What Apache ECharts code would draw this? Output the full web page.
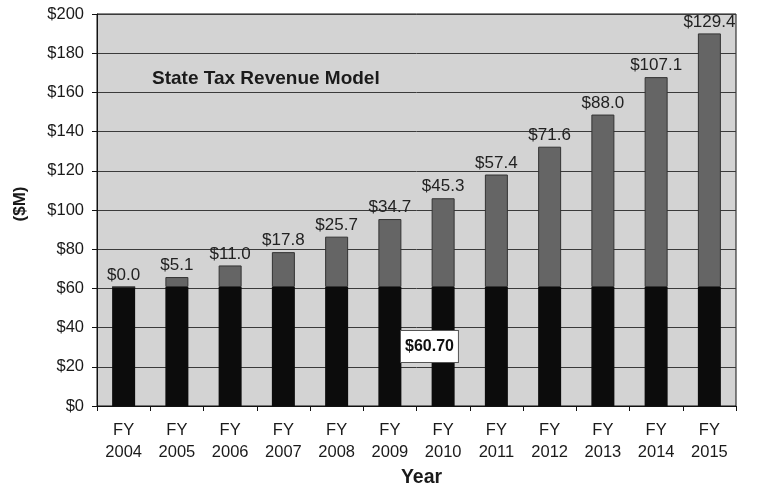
<!DOCTYPE html>
<html>
<head>
<meta charset="utf-8">
<script src="https://cdn.jsdelivr.net/npm/echarts@6/dist/echarts.min.js"></script>
<style>html,body{margin:0;padding:0;background:#fff;}#c{width:777px;height:487px;}</style>
</head>
<body>
<div id="c"></div>
<script>
const categories = ['FY\n2004','FY\n2005','FY\n2006','FY\n2007','FY\n2008','FY\n2009','FY\n2010','FY\n2011','FY\n2012','FY\n2013','FY\n2014','FY\n2015'];
const baseValues = [60.7,60.7,60.7,60.7,60.7,60.7,60.7,60.7,60.7,60.7,60.7,60.7];
const addedValues = [0.0,5.1,11.0,17.8,25.7,34.7,45.3,57.4,71.6,88.0,107.1,129.4];
const yTicks = {min:0, max:200, interval:20};

const chart = echarts.init(document.getElementById('c'));
const font = 'Liberation Sans, Arial, sans-serif';
chart.setOption({
  animation:false,
  grid:{left:97,right:41,top:14,bottom:81,outerBoundsMode:'none',containLabel:false,show:true,backgroundColor:'#d3d3d3',borderColor:'#111',borderWidth:1},
  title:{text:'State Tax Revenue Model',left:147,top:64,textStyle:{fontFamily:font,fontSize:19,fontWeight:'bold',color:'#1a1a1a'}},
  xAxis:{type:'category',data:categories,
    axisLine:{lineStyle:{color:'#111',width:1}},
    axisTick:{show:true,length:5,lineStyle:{color:'#111'}},
    axisLabel:{fontFamily:font,fontSize:16.5,color:'#1a1a1a',margin:13,lineHeight:22,interval:0},
    name:'Year',nameLocation:'middle',nameGap:60,
    nameTextStyle:{fontFamily:font,fontSize:19.5,fontWeight:'bold',color:'#1a1a1a',padding:[0,0,0,10]}},
  yAxis:{type:'value',min:yTicks.min,max:yTicks.max,interval:yTicks.interval,
    axisLine:{show:true,lineStyle:{color:'#111'}},
    axisTick:{show:true,length:5,lineStyle:{color:'#111'}},
    splitLine:{lineStyle:{color:'#3a3a3a',width:1}},
    axisLabel:{fontFamily:font,fontSize:16.5,color:'#1a1a1a',margin:13,formatter:v=>'$'+v},
    name:'($M)',nameLocation:'middle',nameGap:68,nameRotate:90,
    nameTextStyle:{fontFamily:font,fontSize:17,fontWeight:'bold',color:'#1a1a1a',padding:[0,0,0,12]}},
  series:[
    {type:'bar',stack:'t',data:baseValues,barWidth:23,itemStyle:{color:'#0c0c0c'}},
    {type:'bar',stack:'t',data:addedValues,barWidth:23,
      itemStyle:{color:'#656565',borderColor:'#333',borderWidth:1},
      label:{show:true,position:'top',distance:3,fontFamily:font,fontSize:17,color:'#222',formatter:p=>'$'+p.value.toFixed(1)}}
  ],
  graphic:[{type:'text',left:400,top:330,z:100,
    style:{text:'$60.70',fontFamily:font,fontSize:16,fontWeight:'bold',fill:'#111',
      backgroundColor:'#fff',borderColor:'#555',borderWidth:1,padding:[8,4,7,4]}}]
});
</script>
</body>
</html>
